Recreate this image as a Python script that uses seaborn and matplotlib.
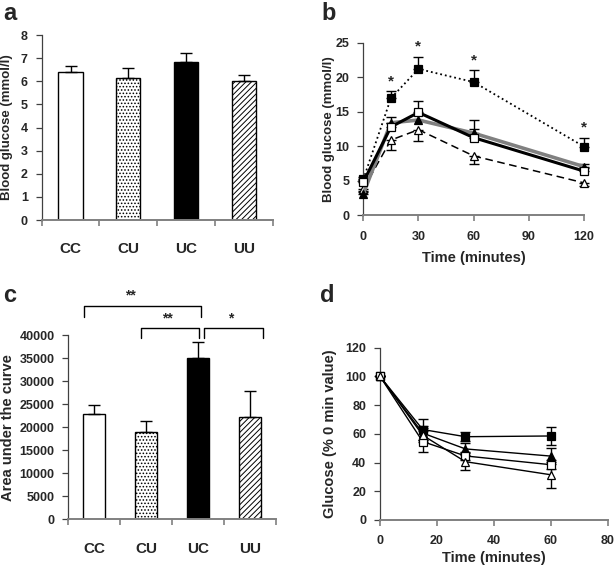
import matplotlib
matplotlib.use('Agg')
import matplotlib.pyplot as plt
import seaborn as sns
import numpy as np


groups = ['CC', 'CU', 'UC', 'UU']
bar_colors = ['white', 'white', 'black', 'white']
bar_hatches = ['', '.....', '', '//////']

# panel a: fasting blood glucose (mmol/l)
fasting_glc = [6.40, 6.15, 6.82, 6.03]
fasting_err = [0.27, 0.43, 0.40, 0.25]

# panel b: glucose tolerance test
gtt_time = [0, 15, 30, 60, 120]
gtt_uc = [5.2, 16.95, 21.2, 19.3, 9.95]
gtt_uc_err = [0.3, 1.05, 1.8, 1.75, 1.3]
gtt_cc = [4.8, 12.8, 14.9, 11.25, 6.4]
gtt_cc_err = [0.3, 0.6, 1.6, 2.6, 0.4]
gtt_uu = [3.1, 13.4, 13.8, 11.9, 7.05]
gtt_uu_err = [0.3, 0.8, 0.7, 0.6, 0.4]
gtt_cu = [3.8, 10.9, 12.4, 8.6, 4.7]
gtt_cu_err = [0.3, 1.5, 1.7, 1.2, 0.4]
gtt_signif = [False, True, True, True, True]

# panel c: area under the curve
auc = [22800, 19050, 35000, 22150]
auc_err = [2050, 2400, 3500, 5650]
auc_pairs = [(0, 2, '**'), (1, 2, '**'), (2, 3, '*')]

# panel d: insulin tolerance test (% of 0 min value)
itt_time = [0, 15, 30, 60]
itt_uc = [100, 63, 58, 58.5]
itt_uc_err = [0, 7.5, 3, 6.5]
itt_uu = [100, 60.5, 49.5, 44.5]
itt_uu_err = [0, 5, 4, 5.5]
itt_cc = [100, 54.6, 44.6, 38.5]
itt_cc_err = [0, 7.5, 3, 3]
itt_cu = [100, 59, 40.6, 31.5]
itt_cu_err = [0, 5, 6, 9]


sns.set_style('ticks')
plt.rcParams['font.family'] = ['Liberation Sans', 'DejaVu Sans']
plt.rcParams['font.weight'] = 'bold'
plt.rcParams['axes.labelweight'] = 'bold'
plt.rcParams['hatch.linewidth'] = 0.7

GRAY = '#808080'
DARK = '#404040'


def style_axes(ax):
    for side in ['top', 'right']:
        ax.spines[side].set_visible(False)
    ax.spines['bottom'].set_color(GRAY)
    ax.spines['bottom'].set_linewidth(1.4)
    ax.spines['left'].set_color(DARK)
    ax.spines['left'].set_linewidth(0.9)
    ax.tick_params(axis='y', direction='out', length=4, width=0.9,
                   color=DARK, labelsize=9, pad=6)
    ax.tick_params(axis='x', direction='out', length=4, width=1.2,
                   color=GRAY, labelsize=9)
    ax.grid(False)


def bar_panel(ax, vals, errs):
    sns.barplot(x=groups, y=vals, hue=groups, palette=bar_colors, legend=False,
                width=0.42, edgecolor='black', linewidth=1.0, errorbar=None,
                saturation=1, ax=ax)
    for patch, h in zip(ax.patches, bar_hatches):
        patch.set_hatch(h)
    x = np.arange(len(groups))
    ax.errorbar(x, vals, yerr=[np.zeros(len(vals)), errs], fmt='none',
                ecolor='black', elinewidth=1.0, capsize=4, capthick=1.0, zorder=3)
    style_axes(ax)
    ax.set_xlim(-0.5, len(groups) - 0.5)
    ax.set_xticks(x)
    ax.set_xticklabels(groups, fontsize=11, fontweight='bold')
    ax.set_xticks(np.arange(len(groups) + 1) - 0.5, minor=True)
    ax.tick_params(axis='x', which='major', length=0, pad=16)
    ax.tick_params(axis='x', which='minor', length=4, width=1.2, color=GRAY)
    ax.set_xlabel('')


def series(ax, t, y, err, color, ls, lw, marker, mfc, direction, ms=5.5):
    sns.lineplot(x=t, y=y, ax=ax, color=color, linestyle=ls, linewidth=lw,
                 marker=marker, markersize=ms, markerfacecolor=mfc,
                 markeredgecolor='black', markeredgewidth=0.9,
                 clip_on=False, zorder=3)
    err = np.asarray(err)
    zero = np.zeros_like(err)
    if direction == 'up':
        yerr = [zero, err]
    elif direction == 'down':
        yerr = [err, zero]
    else:
        yerr = [err, err]
    ax.errorbar(t, y, yerr=yerr, fmt='none', ecolor='black', elinewidth=1.0,
                capsize=3.5, capthick=1.0, clip_on=False, zorder=2)


fig = plt.figure(figsize=(6.15, 5.74), dpi=100)

# ---- a ----
ax_a = fig.add_axes([0.0678, 0.6167, 0.3756, 0.3223])
bar_panel(ax_a, fasting_glc, fasting_err)
ax_a.set_ylim(0, 8)
ax_a.set_yticks(range(0, 9))
ax_a.set_ylabel('Blood glucose (mmol/l)', fontsize=9.5)
ax_a.yaxis.set_label_coords(-0.123, 0.5)

# ---- b ----
ax_b = fig.add_axes([0.5907, 0.6249, 0.3589, 0.3007])
series(ax_b, gtt_time, gtt_uc, gtt_uc_err, 'black', ':', 1.3, 's', 'black', 'up')
series(ax_b, gtt_time, gtt_cu, gtt_cu_err, 'black', (0, (5, 3)), 1.1, '^', 'white', 'down')
series(ax_b, gtt_time, gtt_uu, gtt_uu_err, GRAY, '-', 2.6, '^', 'black', 'up')
series(ax_b, gtt_time, gtt_cc, gtt_cc_err, 'black', '-', 2.2, 's', 'white', 'up')
for t, y, e, s in zip(gtt_time, gtt_uc, gtt_uc_err, gtt_signif):
    if s:
        ax_b.text(t, y + e + 0.4, '*', ha='center', va='bottom', fontsize=11)
style_axes(ax_b)
ax_b.set_xlim(0, 120)
ax_b.set_ylim(0, 25)
ax_b.set_xticks([0, 30, 60, 90, 120])
ax_b.set_yticks([0, 5, 10, 15, 20, 25])
ax_b.tick_params(axis='x', pad=7)
ax_b.set_xlabel('Time (minutes)', fontsize=10.5, labelpad=6)
ax_b.set_ylabel('Blood glucose (mmol/l)', fontsize=9.5)
ax_b.yaxis.set_label_coords(-0.128, 0.5)

# ---- c ----
ax_c = fig.add_axes([0.1111, 0.0953, 0.3377, 0.3206])
bar_panel(ax_c, auc, auc_err)
ax_c.set_ylim(0, 40000)
ax_c.set_yticks(range(0, 40001, 5000))
ax_c.set_ylabel('Area under the curve', fontsize=10.5)
ax_c.yaxis.set_label_coords(-0.257, 0.5)
bracket_levels = [44050, 39500, 39500]
bracket_tops = [46400, 41500, 41500]
bracket_x = [(-0.2, 2.05), (0.9, 2.02), (2.12, 3.25)]
for (i, j, lab), lo, hi, (x0, x1) in zip(auc_pairs, bracket_levels, bracket_tops, bracket_x):
    ax_c.plot([x0, x0, x1, x1], [lo, hi, hi, lo], color='black', lw=1.0,
              clip_on=False)
    ax_c.text((i + j) / 2 - 0.3 if j - i > 1 else (x0 + x1) / 2 - 0.05, hi + 700, lab,
              ha='center', va='bottom', fontsize=10)

# ---- d ----
ax_d = fig.add_axes([0.6179, 0.0941, 0.3702, 0.3002])
series(ax_d, itt_time, itt_uc, itt_uc_err, 'black', '-', 1.0, 's', 'black', 'both')
series(ax_d, itt_time, itt_uu, itt_uu_err, 'black', '-', 1.0, '^', 'black', 'both')
series(ax_d, itt_time, itt_cc, itt_cc_err, 'black', '-', 1.0, 's', 'white', 'both')
series(ax_d, itt_time, itt_cu, itt_cu_err, 'black', '-', 1.0, '^', 'white', 'both')
style_axes(ax_d)
ax_d.set_xlim(0, 80)
ax_d.set_ylim(0, 120)
ax_d.set_xticks([0, 20, 40, 60, 80])
ax_d.set_yticks(range(0, 121, 20))
ax_d.tick_params(axis='x', pad=7)
ax_d.set_xlabel('Time (minutes)', fontsize=10.5, labelpad=3)
ax_d.set_ylabel('Glucose (% 0 min value)', fontsize=10.5)
ax_d.yaxis.set_label_coords(-0.19, 0.5)

for letter, (x, y) in zip('abcd', [(0.005, 0.965), (0.522, 0.965), (0.005, 0.473), (0.52, 0.473)]):
    fig.text(x, y, letter, fontsize=17, fontweight='bold', va='baseline')

fig.savefig('out.png', dpi=100)
